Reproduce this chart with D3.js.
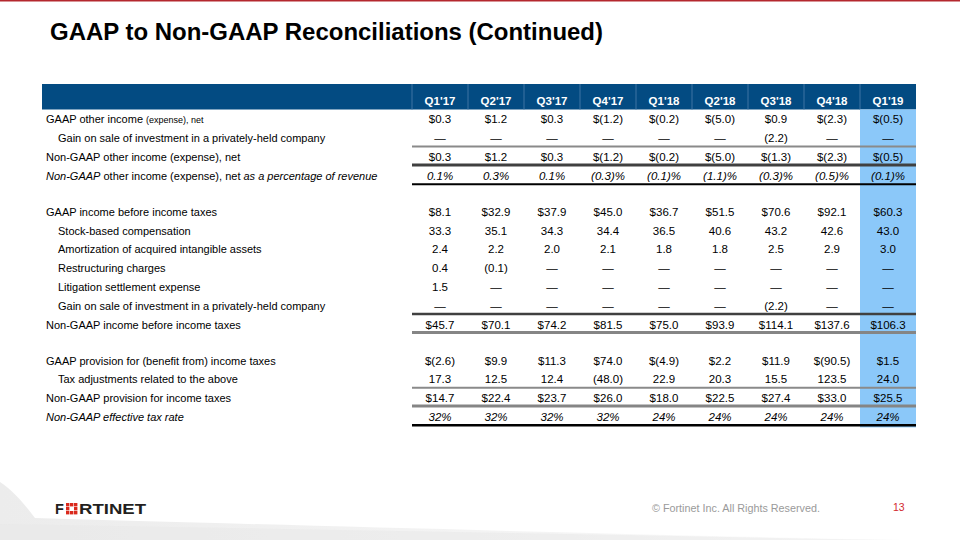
<!DOCTYPE html>
<html><head><meta charset="utf-8">
<script src="https://cdn.jsdelivr.net/npm/d3@7"></script>
<style>
html,body{margin:0;padding:0;background:#fff;}
svg{display:block;font-family:"Liberation Sans",Arial,sans-serif;}
</style></head>
<body>
<svg id="c" width="960" height="540"></svg>
<script>
// ---------- data ----------
const quarters = ["Q1'17","Q2'17","Q3'17","Q4'17","Q1'18","Q2'18","Q3'18","Q4'18","Q1'19"];
const gaapOtherIncome    = [0.3, 1.2, 0.3, -1.2, -0.2, -5.0, 0.9, -2.3, -0.5];
const gainOnSale         = [null, null, null, null, null, null, -2.2, null, null];
const nonGaapOtherIncome = [0.3, 1.2, 0.3, -1.2, -0.2, -5.0, -1.3, -2.3, -0.5];
const otherIncomePct     = [0.1, 0.3, 0.1, -0.3, -0.1, -1.1, -0.3, -0.5, -0.1];
const gaapIncomeBT       = [8.1, 32.9, 37.9, 45.0, 36.7, 51.5, 70.6, 92.1, 60.3];
const stockComp          = [33.3, 35.1, 34.3, 34.4, 36.5, 40.6, 43.2, 42.6, 43.0];
const amortization       = [2.4, 2.2, 2.0, 2.1, 1.8, 1.8, 2.5, 2.9, 3.0];
const restructuring      = [0.4, -0.1, null, null, null, null, null, null, null];
const litigation         = [1.5, null, null, null, null, null, null, null, null];
const gainOnSale2        = [null, null, null, null, null, null, -2.2, null, null];
const nonGaapIncomeBT    = [45.7, 70.1, 74.2, 81.5, 75.0, 93.9, 114.1, 137.6, 106.3];
const gaapTaxProvision   = [-2.6, 9.9, 11.3, 74.0, -4.9, 2.2, 11.9, -90.5, 1.5];
const taxAdjustments     = [17.3, 12.5, 12.4, -48.0, 22.9, 20.3, 15.5, 123.5, 24.0];
const nonGaapTax         = [14.7, 22.4, 23.7, 26.0, 18.0, 22.5, 27.4, 33.0, 25.5];
const effectiveTaxRate   = [32, 32, 32, 32, 24, 24, 24, 24, 24];
const highlightQuarter = "Q1'19";

// ---------- formatting ----------
function fmt(v, kind){
  if (v === null) return "\u2014";
  const a = Math.abs(v);
  if (kind === "usd") return v < 0 ? "$(" + a.toFixed(1) + ")" : "$" + a.toFixed(1);
  if (kind === "num") return v < 0 ? "(" + a.toFixed(1) + ")" : a.toFixed(1);
  if (kind === "pct1") return v < 0 ? "(" + a.toFixed(1) + ")%" : a.toFixed(1) + "%";
  return a.toFixed(0) + "%";
}

// table rows built from the arrays
const rows = [
  {label:[["GAAP other income ",11,0],["(expense), net",9,0]], values:gaapOtherIncome, kind:"usd", indent:0},
  {label:[["Gain on sale of investment in a privately-held company",11,0]], values:gainOnSale, kind:"num", indent:1, line:{c:"#8a8a8a",w:2}},
  {label:[["Non-GAAP other income (expense), net",11,0]], values:nonGaapOtherIncome, kind:"usd", indent:0, line:{c:"#404040",w:3}},
  {label:[["Non-GAAP",11,1],[" other income (expense), net ",11,0],["as a percentage of revenue",11,1]], values:otherIncomePct, kind:"pct1", indent:0, italic:true, line:{c:"#000",w:2}},
  {blank:true},
  {label:[["GAAP income before income taxes",11,0]], values:gaapIncomeBT, kind:"usd", indent:0},
  {label:[["Stock-based compensation",11,0]], values:stockComp, kind:"num", indent:1},
  {label:[["Amortization of acquired intangible assets",11,0]], values:amortization, kind:"num", indent:1},
  {label:[["Restructuring charges",11,0]], values:restructuring, kind:"num", indent:1},
  {label:[["Litigation settlement expense",11,0]], values:litigation, kind:"num", indent:1},
  {label:[["Gain on sale of investment in a privately-held company",11,0]], values:gainOnSale2, kind:"num", indent:1, line:{c:"#404040",w:2.5}},
  {label:[["Non-GAAP income before income taxes",11,0]], values:nonGaapIncomeBT, kind:"usd", indent:0, line:{c:"#858585",w:3}},
  {blank:true},
  {label:[["GAAP provision for (benefit from) income taxes",11,0]], values:gaapTaxProvision, kind:"usd", indent:0},
  {label:[["Tax adjustments related to the above",11,0]], values:taxAdjustments, kind:"num", indent:1, line:{c:"#8a8a8a",w:2}},
  {label:[["Non-GAAP provision for income taxes",11,0]], values:nonGaapTax, kind:"usd", indent:0, line:{c:"#858585",w:3}},
  {label:[["Non-GAAP effective tax rate",11,1]], values:effectiveTaxRate, kind:"pct0", indent:0, italic:true, line:{c:"#000",w:2.5}}
];

// ---------- layout ----------
const svg = d3.select("#c");
const x = d3.scaleBand().domain(quarters).range([412, 916]);
const rowH = 18.8, blankH = 17.2, headTop = 84, headBottom = 109.5;
let yy = 110;
rows.forEach(r => { r.y0 = yy; yy += r.blank ? blankH : rowH; r.y1 = yy; });
const tableBottom = yy;

// top red rule
svg.append("rect").attr("x",0).attr("y",0).attr("width",960).attr("height",1.5).attr("fill","#b4282e");

// title
svg.append("text").attr("x",50).attr("y",40)
  .attr("font-size",23).attr("font-weight","bold").attr("fill","#000")
  .attr("textLength",553).attr("lengthAdjust","spacingAndGlyphs")
  .text("GAAP to Non-GAAP Reconciliations (Continued)");

// footer swoosh
const defs = svg.append("defs");
const g1 = defs.append("linearGradient").attr("id","sw").attr("x1","0").attr("x2","1").attr("y1","0").attr("y2","0");
g1.append("stop").attr("offset","0").attr("stop-color","#ececec");
g1.append("stop").attr("offset","0.6").attr("stop-color","#f4f4f4");
g1.append("stop").attr("offset","1").attr("stop-color","#ffffff");
svg.append("path").attr("d","M0,482 C15,492 25,505 35,518 C250,524 600,534 900,540 L0,540 Z").attr("fill","url(#sw)");
svg.append("path").attr("d","M0,524 C300,529 600,535 900,540 L0,540 Z").attr("fill","#e8e8e8").attr("opacity",0.5);

// header band
svg.append("rect").attr("x",42).attr("y",headTop).attr("width",874).attr("height",headBottom-headTop).attr("fill","#034b82");
svg.selectAll("line.hsep").data(quarters).join("line").attr("class","hsep")
  .attr("x1",d=>x(d)).attr("x2",d=>x(d)).attr("y1",headTop).attr("y2",headBottom)
  .attr("stroke","#3f74a3").attr("stroke-width",1);
svg.selectAll("text.hq").data(quarters).join("text").attr("class","hq")
  .attr("x",d=>x(d)+x.bandwidth()/2).attr("y",105)
  .attr("text-anchor","middle").attr("font-size",11.5).attr("font-weight","bold").attr("fill","#fff")
  .text(d=>d);

// highlight column
svg.append("rect").attr("x",x(highlightQuarter)).attr("y",headBottom)
  .attr("width",x.bandwidth()).attr("height",tableBottom+1-headBottom).attr("fill","#8bc8f9");

// rows
const dataRows = rows.filter(r=>!r.blank);
const rg = svg.selectAll("g.row").data(dataRows).join("g").attr("class","row");

rg.append("text")
  .attr("x",r=>r.indent ? 58 : 46)
  .attr("y",r=>(r.y0+r.y1)/2+4)
  .attr("fill","#000")
  .each(function(r){
    const t = d3.select(this);
    r.label.forEach(p=>{
      t.append("tspan").attr("font-size",p[1]).attr("font-style",p[2]?"italic":"normal").text(p[0]);
    });
  });

rg.each(function(r){
  const g = d3.select(this);
  g.selectAll("text.v").data(r.values.map((v,i)=>({v,q:quarters[i]}))).join("text").attr("class","v")
    .attr("x",d=>x(d.q)+x.bandwidth()/2).attr("y",(r.y0+r.y1)/2+4)
    .attr("text-anchor","middle").attr("font-size",11.5).attr("fill","#000")
    .attr("font-style",r.italic?"italic":"normal")
    .text(d=>fmt(d.v,r.kind));
  if (r.line){
    g.append("line").attr("x1",x.range()[0]).attr("x2",x.range()[1])
      .attr("y1",r.y1-r.line.w/2).attr("y2",r.y1-r.line.w/2)
      .attr("stroke",r.line.c).attr("stroke-width",r.line.w);
  }
});

// footer logo
const logo = svg.append("g").attr("transform","translate(55,514)");
logo.append("text").attr("x",0).attr("y",0).attr("font-size",14.5).attr("font-weight","bold").attr("fill","#231f20")
  .attr("letter-spacing",0.5).text("F");
const sq = [[0,0],[4,0],[8,0],[0,4],[8,4],[0,8],[4,8],[8,8]];
logo.selectAll("rect.lg").data(sq).join("rect").attr("class","lg")
  .attr("x",d=>11+d[0]).attr("y",d=>-11+d[1]).attr("width",3.4).attr("height",3.4).attr("fill","#da291c");
logo.append("text").attr("x",24).attr("y",0).attr("font-size",14.5).attr("font-weight","bold").attr("fill","#231f20")
  .attr("textLength",67).attr("lengthAdjust","spacingAndGlyphs").text("RTINET");

svg.append("text").attr("x",652).attr("y",512).attr("font-size",10.5).attr("fill","#9a9a9a")
  .attr("textLength",168).attr("lengthAdjust","spacingAndGlyphs")
  .text("\u00A9 Fortinet Inc. All Rights Reserved.");
svg.append("text").attr("x",893).attr("y",511).attr("font-size",10.5).attr("fill","#d2282e").text("13");
</script>
</body></html>
